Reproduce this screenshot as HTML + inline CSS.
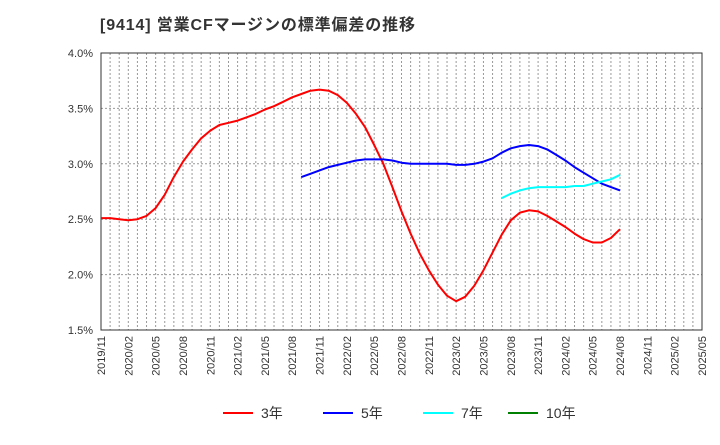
<!DOCTYPE html>
<html><head><meta charset="utf-8"><style>
body{margin:0;background:#fff;font-family:"Liberation Sans","Noto Sans CJK JP",sans-serif;}
svg text{font-family:"Liberation Sans","Noto Sans CJK JP",sans-serif;}
</style></head><body>
<svg id="chart" width="720" height="440" viewBox="0 0 720 440" xmlns="http://www.w3.org/2000/svg">
<text x="100" y="30" font-size="16" font-weight="bold" fill="#333" textLength="315" lengthAdjust="spacing">[9414]  営業CFマージンの標準偏差の推移</text>
<g id="grid"></g><g id="axes"></g><g id="series"></g><g id="legend"></g>
</svg>
<script>
const xLabels=["2019/11","2020/02","2020/05","2020/08","2020/11","2021/02","2021/05","2021/08","2021/11","2022/02","2022/05","2022/08","2022/11","2023/02","2023/05","2023/08","2023/11","2024/02","2024/05","2024/08","2024/11","2025/02","2025/05"];
const yTicks=[1.5,2.0,2.5,3.0,3.5,4.0];
const red3=[2.51,2.51,2.50,2.49,2.50,2.53,2.60,2.72,2.88,3.02,3.13,3.23,3.30,3.35,3.37,3.39,3.42,3.45,3.49,3.52,3.56,3.60,3.63,3.66,3.67,3.66,3.62,3.55,3.45,3.33,3.17,3.00,2.79,2.57,2.37,2.19,2.04,1.91,1.81,1.76,1.80,1.90,2.04,2.20,2.36,2.49,2.56,2.58,2.57,2.53,2.48,2.43,2.37,2.32,2.29,2.29,2.33,2.41];
const red3Start=0;
const blue5=[2.88,2.91,2.94,2.97,2.99,3.01,3.03,3.04,3.04,3.04,3.03,3.01,3.00,3.00,3.00,3.00,3.00,2.99,2.99,3.00,3.02,3.05,3.10,3.14,3.16,3.17,3.16,3.13,3.08,3.03,2.97,2.92,2.87,2.82,2.79,2.76];
const blue5Start=22;
const cyan7=[2.69,2.73,2.76,2.78,2.79,2.79,2.79,2.79,2.80,2.80,2.82,2.84,2.86,2.90];
const cyan7Start=44;
const L=101,R=702,T=53,B=330,NM=66;
const NS="http://www.w3.org/2000/svg";
const xs=m=>L+(R-L)*m/NM;
const ys=v=>B-(B-T)*(v-1.5)/2.5;
function mk(tag,attrs,parent){const e=document.createElementNS(NS,tag);for(const k in attrs)e.setAttribute(k,attrs[k]);document.getElementById(parent).appendChild(e);return e;}
for(let m=1;m<NM;m++){
 const e=mk('line',{x1:xs(m),x2:xs(m),y1:T,y2:B,stroke:'#999','stroke-dasharray':'2,2','stroke-width':1},'grid');
 
 
}
yTicks.forEach(t=>{
 if(t>1.5&&t<4.0){const g=mk('line',{x1:L,x2:R,y1:ys(t),y2:ys(t),stroke:'#999','stroke-dasharray':'2,2'},'grid');
 
 }
 const tx=mk('text',{x:L-8,y:ys(t)+4,'text-anchor':'end','font-size':11,fill:'#333'},'axes');
 tx.textContent=t.toFixed(1)+'%';
 
 
});
const fr=mk('rect',{x:L,y:T,width:R-L,height:B-T,fill:'none',stroke:'#333','stroke-width':1},'axes');


xLabels.forEach((lab,i)=>{
 const x=xs(i*3);
 const tx=mk('text',{x:0,y:0,'text-anchor':'end','font-size':11,fill:'#333',transform:`translate(${x+4},${B+6}) rotate(-90)`},'axes');
 tx.textContent=lab;
 
 
});
function line(vals,start,color,name){
 const p=vals.map((v,i)=>xs(start+i).toFixed(1)+','+ys(v).toFixed(1)).join(' ');
 const e=mk('polyline',{points:p,fill:'none',stroke:color,'stroke-width':2,'stroke-linejoin':'round'},'series');
 
 
}
line(red3,red3Start,'#ff0000','series-3yr');
line(blue5,blue5Start,'#0000ff','series-5yr');
line(cyan7,cyan7Start,'#00ffff','series-7yr');
[['3年','#ff0000',223],['5年','#0000ff',323],['7年','#00ffff',423],['10年','#008000',508]].forEach(([t,c,x])=>{
 const l=mk('line',{x1:x,x2:x+30,y1:413,y2:413,stroke:c,'stroke-width':2},'legend');
 
 
 const tx=mk('text',{x:x+38,y:418,'font-size':14,fill:'#333'},'legend');
 tx.textContent=t;
 
 
});
</script>
</body></html>
